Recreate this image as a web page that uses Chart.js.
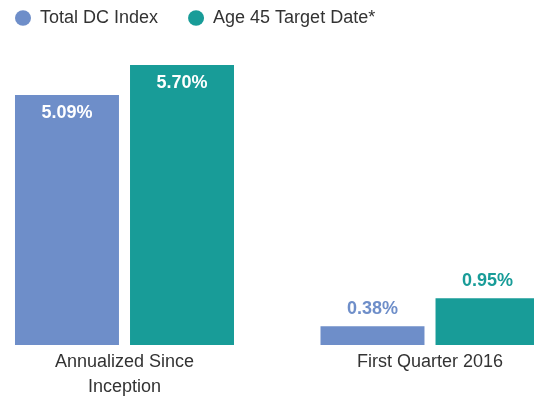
<!DOCTYPE html>
<html>
<head>
<meta charset="utf-8">
<script src="https://cdn.jsdelivr.net/npm/chart.js@4.4.0/dist/chart.umd.min.js"></script>
<style>
  html, body { margin: 0; padding: 0; background: #fff; overflow: hidden; }
</style>
</head>
<body>
<canvas id="graficoRetornos" width="534" height="400"></canvas>
<script>
// categorias (etiquetas de varias lineas como arrays)
const categories = [["Annualized Since", "Inception"], ["First Quarter 2016"]];
const seriesNames = ["Total DC Index", "Age 45 Target Date*"];
const totalDC = [5.09, 0.38];
const age45 = [5.70, 0.95];
const colors = ["#6e8ec9", "#189c98"];

Chart.defaults.font.family = "'Liberation Sans', Arial, sans-serif";
Chart.defaults.color = "#333";

// etiquetas de valor: blancas dentro de la barra, o de color encima si es baja
const etiquetasValor = {
  id: "etiquetasValor",
  afterDatasetsDraw(chart) {
    const ctx = chart.ctx;
    ctx.save();
    ctx.font = "bold 18px 'Liberation Sans', Arial, sans-serif";
    ctx.textAlign = "center";
    ctx.textBaseline = "middle";
    chart.data.datasets.forEach((ds, i) => {
      chart.getDatasetMeta(i).data.forEach((bar, j) => {
        const alto = bar.base - bar.y;
        const texto = ds.data[j].y.toFixed(2) + "%";
        if (alto > 100) {
          ctx.fillStyle = "#ffffff";
          ctx.fillText(texto, bar.x, bar.y + 18);
        } else {
          ctx.fillStyle = ds.backgroundColor;
          ctx.fillText(texto, bar.x, bar.y - 17);
        }
      });
    });
    ctx.restore();
  },
};

// el eje x es lineal (0, 1) para poder ubicar los grupos como en el original
const toPoints = (values) => values.map((v, i) => ({ x: i, y: v }));

new Chart(document.getElementById("graficoRetornos").getContext("2d"), {
  type: "bar",
  data: {
    datasets: [
      {
        label: seriesNames[0],
        data: toPoints(totalDC),
        backgroundColor: colors[0],
        borderWidth: 0,
        barPercentage: 0.904,
        categoryPercentage: 0.753,
      },
      {
        label: seriesNames[1],
        data: toPoints(age45),
        backgroundColor: colors[1],
        borderWidth: 0,
        barPercentage: 0.904,
        categoryPercentage: 0.753,
      },
    ],
  },
  plugins: [etiquetasValor],
  options: {
    responsive: false,
    animation: false,
    layout: {
      autoPadding: false,
      padding: { top: -21, left: -15, right: 0, bottom: 0 },
    },
    plugins: {
      tooltip: { enabled: false },
      legend: {
        position: "top",
        align: "start",
        labels: {
          usePointStyle: true,
          pointStyle: "circle",
          pointStyleWidth: 16,
          boxHeight: 11,
          padding: 30,
          color: "#333",
          font: { size: 18 },
        },
      },
    },
    scales: {
      x: {
        type: "linear",
        offset: false,
        min: -0.4075,
        max: 1.3404,
        bounds: "data",
        grid: { display: false, drawTicks: false },
        border: { display: false },
        afterBuildTicks: (axis) => {
          axis.ticks = categories.map((c, i) => ({ value: i }));
        },
        afterFit: (axis) => {
          axis.height = 55;
        },
        ticks: {
          autoSkip: false,
          maxRotation: 0,
          padding: 5,
          color: "#333",
          font: { size: 18, lineHeight: 1.39 },
          callback: (value) => categories[value],
        },
      },
      y: {
        display: false,
        min: 0,
        max: 6.27,
      },
    },
  },
});
</script>
</body>
</html>
